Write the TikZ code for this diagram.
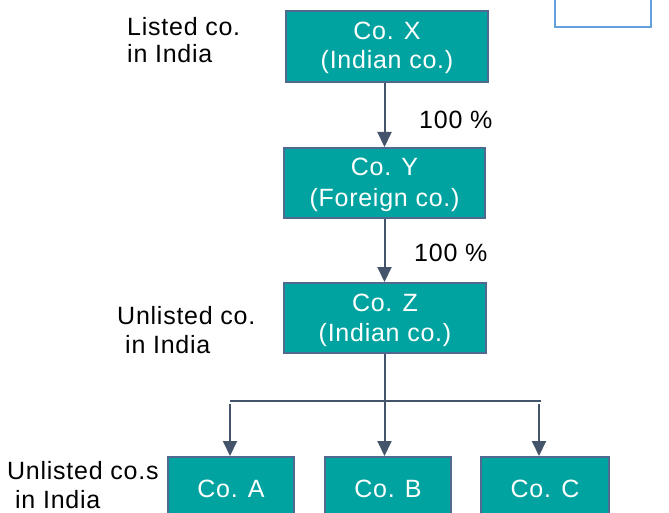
\documentclass[tikz,border=0pt]{standalone}
\usepackage{fontspec}
\setmainfont{Liberation Sans}[LetterSpace=3]
\usetikzlibrary{arrows.meta}
\definecolor{teal1}{RGB}{0,163,160}
\definecolor{bord}{RGB}{80,105,145}
\definecolor{arr}{RGB}{68,84,106}
\definecolor{lblue}{RGB}{100,160,220}
\begin{document}
\begin{tikzpicture}[x=1pt,y=-1pt,
  cobox/.style={draw=bord,line width=2pt,fill=teal1,inner sep=0pt,anchor=north west},
  boxtxt/.style={text=white,font=\fontsize{25}{30}\selectfont,inner sep=0pt,anchor=base},
  lab/.style={font=\fontsize{25}{27}\selectfont,inner sep=0pt,anchor=base west},
  conn/.style={draw=arr,line width=2pt,-{Triangle[width=14pt,length=15pt]}}]
\useasboundingbox (0,0) rectangle (669,513);
% boxes
\node[cobox,minimum width=202pt,minimum height=71pt] (X) at (285,10) {};
\node[cobox,minimum width=201pt,minimum height=70pt] (Y) at (283,147) {};
\node[cobox,minimum width=202pt,minimum height=70pt] (Z) at (283,282) {};
\node[cobox,minimum width=126pt,minimum height=70pt] (A) at (167,456) {};
\node[cobox,minimum width=126pt,minimum height=70pt] (B) at (324,456) {};
\node[cobox,minimum width=128pt,minimum height=70pt] (C) at (480,456) {};
\node[draw=lblue,line width=1.5pt,minimum width=96pt,minimum height=30pt,anchor=south west] (E) at (554,28) {};
% box texts
\node[boxtxt] (Xt1) at ([yshift=-30pt]X.north) {Co. X};
\node[boxtxt] (Xt2) at ([yshift=-59pt]X.north) {(Indian co.)};
\node[boxtxt] (Yt1) at ([yshift=-29pt]Y.north) {Co. Y};
\node[boxtxt] (Yt2) at ([yshift=-60pt]Y.north) {(Foreign co.)};
\node[boxtxt] (Zt1) at ([yshift=-29pt]Z.north) {Co. Z};
\node[boxtxt] (Zt2) at ([yshift=-59pt]Z.north) {(Indian co.)};
\node[boxtxt] (At) at ([yshift=-41pt]A.north) {Co. A};
\node[boxtxt] (Bt) at ([yshift=-41pt]B.north) {Co. B};
\node[boxtxt] (Ct) at ([yshift=-41pt]C.north) {Co. C};
% labels
\node[lab] (l1a) at (127,36) {Listed co.};
\node[lab] (l1b) at (127,63) {in India};
\node[lab] (p1) at (419,129) {100 \%};
\node[lab] (p2) at (414,261) {100 \%};
\node[lab] (l2a) at (117,324) {Unlisted co.};
\node[lab] (l2b) at (125,353) {in India};
\node[lab] (l3a) at (7,479) {Unlisted co.s};
\node[lab] (l3b) at (15,508) {in India};
% connectors
\coordinate (hl) at (230,401);
\coordinate (hr) at (541,401);
\coordinate (ta) at (230,404);
\coordinate (tc) at (539,404);
\draw[conn] (Y.north |- X.south) -- (Y.north);
\draw[conn] (Y.south) -- (Y.south |- Z.north);
\draw[draw=arr,line width=1.3pt] (hl) -- (hr);
\draw[conn] (Y.south |- Z.south) -- (Y.south |- B.north);
\draw[conn] (ta) -- (ta |- A.north);
\draw[conn] (tc) -- (tc |- C.north);
\end{tikzpicture}
\end{document}
